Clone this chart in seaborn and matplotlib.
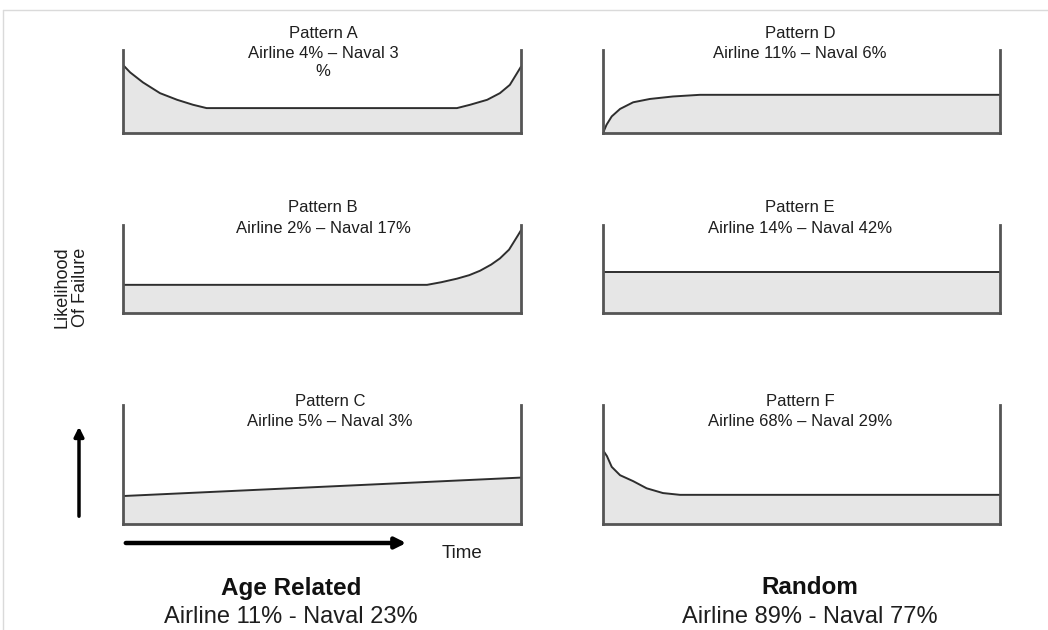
import pandas as pd
import matplotlib.pyplot as plt
import seaborn as sns
from matplotlib.lines import Line2D

# failure curves (x: 0..1 across the panel, y: 0..1 up to the wall top)
a_x = [0.0, 0.018, 0.05, 0.093, 0.136, 0.176, 0.21, 0.839, 0.872, 0.915, 0.947, 0.972, 0.995, 1.0]
a_y = [0.82, 0.73, 0.61, 0.48, 0.40, 0.34, 0.30, 0.30, 0.34, 0.40, 0.48, 0.58, 0.76, 0.80]

b_x = [0.0, 0.764, 0.80, 0.839, 0.87, 0.897, 0.925, 0.947, 0.97, 0.992, 1.0]
b_y = [0.32, 0.32, 0.35, 0.39, 0.43, 0.48, 0.55, 0.62, 0.72, 0.88, 0.94]

c_x = [0.0, 1.0]
c_y = [0.235, 0.39]

d_x = [0.0, 0.009, 0.022, 0.043, 0.076, 0.118, 0.176, 0.244, 1.0]
d_y = [0.0, 0.10, 0.20, 0.29, 0.37, 0.41, 0.44, 0.46, 0.46]

e_x = [0.0, 1.0]
e_y = [0.47, 0.47]

f_x = [0.0, 0.01, 0.022, 0.043, 0.076, 0.11, 0.151, 0.194, 1.0]
f_y = [0.62, 0.57, 0.48, 0.41, 0.36, 0.30, 0.26, 0.245, 0.245]

titles = ["Pattern A", "Pattern B", "Pattern C", "Pattern D", "Pattern E", "Pattern F"]
shares = ["Airline 4% \u2013 Naval 3\n%", "Airline 2% \u2013 Naval 17%", "Airline 5% \u2013 Naval 3%",
          "Airline 11% \u2013 Naval 6%", "Airline 14% \u2013 Naval 42%", "Airline 68% \u2013 Naval 29%"]
group_names = ["Age Related", "Random"]
group_shares = ["Airline 11% - Naval 23%", "Airline 89% - Naval 77%"]

curves = [(a_x, a_y), (b_x, b_y), (c_x, c_y), (d_x, d_y), (e_x, e_y), (f_x, f_y)]

sns.set_theme(style="white")
plt.rcParams['font.family'] = ['Liberation Sans', 'DejaVu Sans']

W, H = 1048, 630
fig = plt.figure(figsize=(W / 100, H / 100), dpi=100)

def fx(px):
    return px / W

def fy(py):
    return 1 - py / H

# panel boxes in pixels
cols = [(123, 521), (603, 1000)]
rows = [(50, 133), (225, 313), (405, 524)]
title_y = [34, 208, 401]
share_y = [46, 228, 422]
text_cx = [323, 323, 330, 800, 800, 800]

ink = "#2e2e2e"
wall = "#555555"
fill = "#e6e6e6"
txt = "#1e1e1e"

for i, (xs, ys) in enumerate(curves):
    col, row = divmod(i, 3)
    x0, x1 = cols[col]
    top, bot = rows[row]
    ax = fig.add_axes([fx(x0), fy(bot), (x1 - x0) / W, (bot - top) / H])
    df = pd.DataFrame({"t": xs, "p": ys})
    ax.fill_between(df["t"], 0, df["p"], color=fill, lw=0)
    sns.lineplot(data=df, x="t", y="p", ax=ax, color=ink, lw=1.4, sort=False)
    ax.set_xlim(0, 1)
    ax.set_ylim(0, 1)
    ax.set_xticks([])
    ax.set_yticks([])
    ax.set_xlabel("")
    ax.set_ylabel("")
    ax.spines["top"].set_visible(False)
    for s in ["left", "right", "bottom"]:
        ax.spines[s].set_color(wall)
        ax.spines[s].set_linewidth(2)

    fig.text(fx(text_cx[i]), fy(title_y[row]), titles[i], ha="center", va="center",
             fontsize=12, color=txt)
    if row == 0:
        fig.text(fx(text_cx[i]), fy(share_y[row]), shares[i], ha="center", va="top",
                 fontsize=12, color=txt, linespacing=1.25)
    else:
        fig.text(fx(text_cx[i]), fy(share_y[row]), shares[i], ha="center", va="center",
                 fontsize=12, color=txt)

# axis hints
fig.text(fx(71), fy(287), "Likelihood\nOf Failure", rotation=90, ha="center", va="center",
         fontsize=13, color=txt, linespacing=1.1)
fig.add_artist(plt.Annotation("", xy=(fx(79), fy(424)), xytext=(fx(79), fy(519)),
                              xycoords="figure fraction",
                              arrowprops=dict(arrowstyle="-|>", color="black", lw=2.5, mutation_scale=14)))
fig.add_artist(plt.Annotation("", xy=(fx(409), fy(543)), xytext=(fx(123), fy(543)),
                              xycoords="figure fraction",
                              arrowprops=dict(arrowstyle="-|>", color="black", lw=3.2, mutation_scale=16)))
fig.text(fx(462), fy(553), "Time", ha="center", va="center", fontsize=13.5, color=txt)

# group labels
for k, cx in enumerate([291, 810]):
    fig.text(fx(cx), fy(588), group_names[k], ha="center", va="center", fontsize=17.5,
             fontweight="bold", color="#111111")
    fig.text(fx(cx), fy(617), group_shares[k], ha="center", va="center", fontsize=17,
             color=txt)

# faint frame at the top-left
fig.add_artist(Line2D([fx(3), 1], [fy(10), fy(10)], color="#dadada", lw=1))
fig.add_artist(Line2D([fx(3), fx(3)], [0, fy(10)], color="#dadada", lw=1))

fig.savefig("out.png", dpi=100, facecolor="white")
